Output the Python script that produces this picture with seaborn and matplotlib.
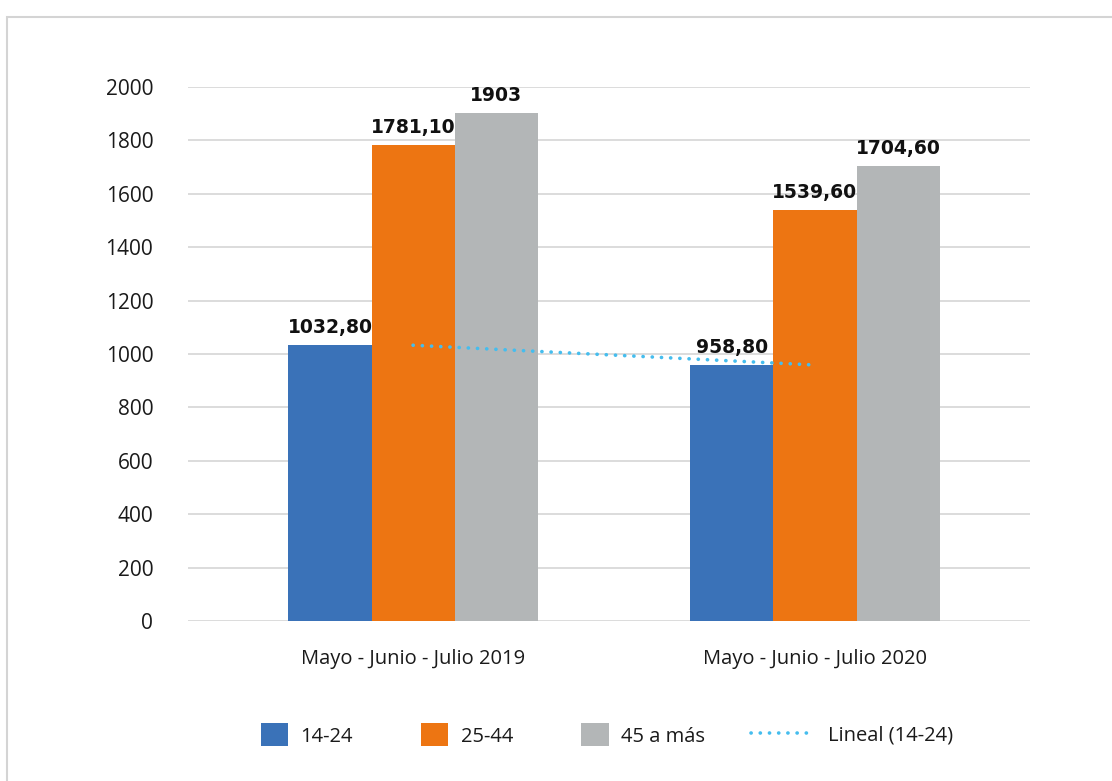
import numpy as np
import pandas as pd
import matplotlib
matplotlib.use("Agg")
import matplotlib.pyplot as plt
from matplotlib.patches import Rectangle, Patch
from matplotlib.lines import Line2D
import seaborn as sns

# Data
periods = ["Mayo - Junio - Julio 2019", "Mayo - Junio - Julio 2020"]
groups = ["14-24", "25-44", "45 a más"]
v_14_24 = [1032.80, 958.80]
v_25_44 = [1781.10, 1539.60]
v_45_mas = [1903.0, 1704.60]
trend_label = "Lineal (14-24)"
y_ticks = [0, 200, 400, 600, 800, 1000, 1200, 1400, 1600, 1800, 2000]

colors = ["#3A72B8", "#ED7512", "#B3B6B7"]
trend_color = "#45BDEE"

df = pd.DataFrame({
    "periodo": periods * 3,
    "grupo": [g for g in groups for _ in periods],
    "valor": v_14_24 + v_25_44 + v_45_mas,
})

sns.set_theme(style="white")
plt.rcParams["font.family"] = ["Open Sans", "DejaVu Sans"]

fig = plt.figure(figsize=(11.12, 7.81), dpi=100)
ax = fig.add_axes([188 / 1112, 1 - 621 / 781, (1030 - 188) / 1112, (621 - 87) / 781])

sns.barplot(data=df, x="periodo", y="valor", hue="grupo", hue_order=groups,
            order=periods, palette=colors, width=0.62, gap=0, saturation=1,
            errorbar=None, legend=False, ax=ax, zorder=2, linewidth=0,
            edgecolor="none")

def fmt(v):
    if float(v).is_integer():
        return f"{int(v)}"
    return f"{v:.2f}".replace(".", ",")

for cont in ax.containers:
    ax.bar_label(cont, labels=[fmt(b.get_height()) for b in cont], padding=6,
                 fontsize=13.5, fontweight="bold", color="#111111",
                 family="DejaVu Sans")

# Linear trend of the 14-24 series
xs = np.arange(len(periods))
coef = np.polyfit(xs, v_14_24, 1)
ax.plot(xs, np.polyval(coef, xs), color=trend_color, lw=2.6,
        linestyle=(0, (0.05, 2.5)), dash_capstyle="round", zorder=3)

ax.set_xlim(-0.56, 1.535)
ax.set_ylim(0, 2000)
ax.set_yticks(y_ticks)
ax.set_yticklabels([str(t) for t in y_ticks])
ax.yaxis.grid(True, color="#D9D9D9", lw=1.3, zorder=0)
ax.set_axisbelow(True)
for s in ax.spines.values():
    s.set_visible(False)
ax.tick_params(axis="y", length=0, pad=25, labelsize=15, labelcolor="#1a1a1a")
ax.tick_params(axis="x", length=0, pad=20, labelsize=14.5, labelcolor="#1a1a1a")
ax.set_xlabel("")
ax.set_ylabel("")

# Legend: bar series
bar_handles = [Patch(facecolor=c, edgecolor="none") for c in colors]
fig.legend(bar_handles, groups, loc="center left",
           bbox_to_anchor=(261 / 1112, 1 - 735 / 781), frameon=False,
           fontsize=14.5, handlelength=1.35, handleheight=1.35, handletextpad=0.6,
           columnspacing=3.4, ncol=3, borderpad=0, borderaxespad=0,
           labelcolor="#1a1a1a")
# Legend: trend line
line_handle = Line2D([], [], color=trend_color, lw=2.6,
                     linestyle=(0, (0.05, 2.5)), dash_capstyle="round")
fig.legend([line_handle], [trend_label], loc="center left",
           bbox_to_anchor=(751 / 1112, 1 - 735 / 781), frameon=False,
           fontsize=14.5, handlelength=2.9, handletextpad=0.9,
           borderpad=0, borderaxespad=0, labelcolor="#1a1a1a")

# Chart area frame
fig.patches.append(Rectangle((7 / 1112, -0.2), 2.0, 1.2 - 17 / 781,
                             transform=fig.transFigure, fill=False,
                             edgecolor="#D4D4D4", lw=1.5))

fig.savefig("out.png", dpi=100)
